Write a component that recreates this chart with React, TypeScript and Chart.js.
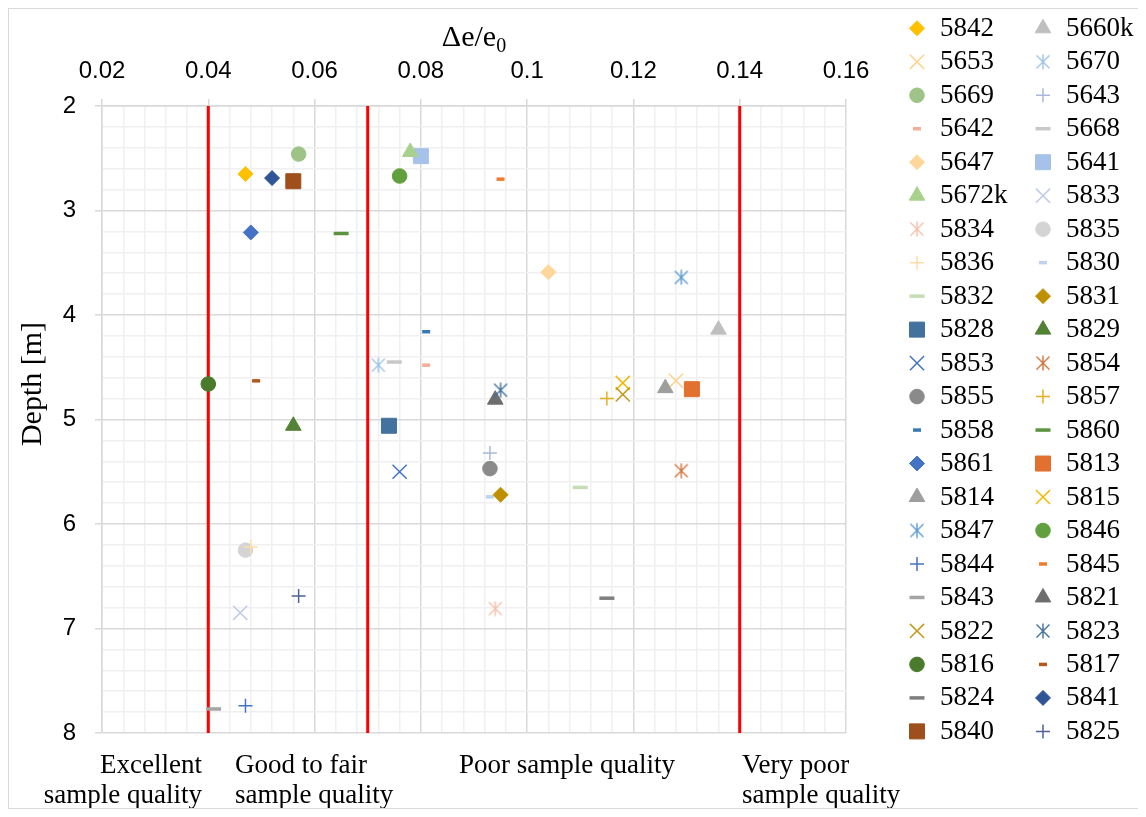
import React, { useEffect, useRef } from 'react';
import { Chart, registerables } from 'chart.js';
import { drawPoint } from 'chart.js/helpers';

Chart.register(...registerables);

// ---- data (Excel series order, legend read row by row) ----
const sampleIds = [
  '5842', '5660k', '5653', '5670', '5669', '5643', '5642', '5668', '5647', '5641',
  '5672k', '5833', '5834', '5835', '5836', '5830', '5832', '5831', '5828', '5829',
  '5853', '5854', '5855', '5857', '5858', '5860', '5861', '5813', '5814', '5815',
  '5847', '5846', '5844', '5845', '5843', '5821', '5822', '5823', '5816', '5817',
  '5824', '5841', '5840', '5825',
];
const deltaE = [
  0.047, 0.136, 0.128, 0.072, 0.057, 0.093, 0.081, 0.075, 0.104, 0.080,
  0.078, 0.046, 0.094, 0.047, 0.048, 0.093, 0.110, 0.095, 0.074, 0.056,
  0.076, 0.129, 0.093, 0.115, 0.081, 0.065, 0.048, 0.131, 0.126, 0.118,
  0.129, 0.076, 0.047, 0.095, 0.041, 0.094, 0.118, 0.095, 0.040, 0.049,
  0.115, 0.052, 0.056, 0.057,
];
const depth = [
  2.65, 4.14, 4.63, 4.48, 2.46, 5.32, 4.48, 4.45, 3.59, 2.48,
  2.44, 6.85, 6.81, 6.25, 6.22, 5.74, 5.65, 5.72, 5.06, 5.06,
  5.50, 5.49, 5.47, 4.80, 4.16, 3.22, 3.21, 4.71, 4.70, 4.65,
  3.64, 2.67, 7.74, 2.70, 7.77, 4.81, 4.76, 4.72, 4.66, 4.63,
  6.71, 2.69, 2.72, 6.69,
];
const qualityBounds = [0.04, 0.07, 0.14];
const depthRange = [2, 8];
const xMajorTicks = [0.02, 0.04, 0.06, 0.08, 0.1, 0.12, 0.14, 0.16];
const yMajorTicks = [2, 3, 4, 5, 6, 7, 8];
const xTitle = 'Δe/e';
const xTitleSub = '0';
const yTitle = 'Depth [m]';
const qualityLabels = [
  ['Excellent', 'sample quality'],
  ['Good to fair', 'sample quality'],
  ['Poor sample quality'],
  ['Very poor', 'sample quality'],
];

// ---- styles ----
const markerKinds = [
  'diamond', 'triangle', 'x', 'asterisk', 'circle', 'plus', 'dashS', 'dashL', 'diamond', 'square',
  'triangle', 'x', 'asterisk', 'circle', 'plus', 'dashS', 'dashL', 'diamond', 'square', 'triangle',
  'x', 'asterisk', 'circle', 'plus', 'dashS', 'dashL', 'diamond', 'square', 'triangle', 'x',
  'asterisk', 'circle', 'plus', 'dashS', 'dashL', 'triangle', 'x', 'asterisk', 'circle', 'dashS',
  'dashL', 'diamond', 'square', 'plus',
];
const markerColors = [
  '#FFC000', '#BFBFBF', '#FFD28C', '#9DC3E6', '#9DC486', '#A9B8DC', '#F3AE99', '#C8C8C8', '#FFD699', '#A6C2E8',
  '#A9D18E', '#C0CAEA', '#F6C0AA', '#D4D4D4', '#FFDDAA', '#BDD2EE', '#C5DDB4', '#BF9000', '#44729E', '#548235',
  '#4472C4', '#D0743C', '#8A8A8A', '#E5B01E', '#3A78B5', '#5B9340', '#4472C4', '#E2702E', '#9E9E9E', '#F5B800',
  '#5B9BD5', '#62A03F', '#4472C4', '#ED7D31', '#A5A5A5', '#6E6E6E', '#C49A1C', '#41719C', '#4A7A2C', '#B5581A',
  '#7F7F7F', '#2F5597', '#9E4F1C', '#4F6398',
];

const SERIF = '"Liberation Serif", "Times New Roman", serif';
const SANS = '"Liberation Sans", Arial, sans-serif';

function makeAsterisk(color: string) {
  const c = document.createElement('canvas');
  c.width = 16;
  c.height = 16;
  const g = c.getContext('2d')!;
  g.strokeStyle = color;
  g.lineWidth = 1.4;
  g.beginPath();
  g.moveTo(1.5, 1.5); g.lineTo(14.5, 14.5);
  g.moveTo(14.5, 1.5); g.lineTo(1.5, 14.5);
  g.moveTo(8, 0.5); g.lineTo(8, 15.5);
  g.stroke();
  return c;
}

function markerSpec(kind: string, color: string) {
  switch (kind) {
    case 'diamond': return { style: 'rectRot', radius: 7.5, bw: 1 };
    case 'square': return { style: 'rect', radius: 10.6, bw: 1 };
    case 'triangle': return { style: 'triangle', radius: 9, bw: 1 };
    case 'circle': return { style: 'circle', radius: 7.3, bw: 1 };
    case 'x': return { style: 'crossRot', radius: 10, bw: 1.5 };
    case 'plus': return { style: 'cross', radius: 7, bw: 1.5 };
    case 'dashS': return { style: 'line', radius: 4, bw: 3.5 };
    case 'dashL': return { style: 'line', radius: 7.5, bw: 3.5 };
    case 'asterisk': return { style: makeAsterisk(color) as any, radius: 7, bw: 1 };
    default: return { style: 'circle', radius: 7, bw: 1 };
  }
}

const near = (v: number, list: number[]) => list.some((t) => Math.abs(t - v) < 1e-7);

export default function App() {
  const ref = useRef<HTMLCanvasElement>(null);

  useEffect(() => {
    const canvas = ref.current;
    if (!canvas) return;

    const specs = sampleIds.map((_, i) => markerSpec(markerKinds[i], markerColors[i]));

    const pointSets = sampleIds.map((id, i) => ({
      label: id,
      data: [{ x: deltaE[i], y: depth[i] }],
      pointStyle: specs[i].style,
      pointRadius: specs[i].radius,
      pointHoverRadius: specs[i].radius,
      pointBorderWidth: specs[i].bw,
      backgroundColor: markerColors[i],
      borderColor: markerColors[i],
      showLine: false,
      order: -i,
    }));

    const boundSets = qualityBounds.map((b) => ({
      label: 'bound',
      data: [{ x: b, y: depthRange[0] }, { x: b, y: depthRange[1] }],
      showLine: true,
      borderColor: '#FF0000',
      borderWidth: 3,
      pointRadius: 0,
      order: 1000,
    }));

    const textPlugin = {
      id: 'texts',
      afterDraw(chart: any) {
        const ctx = chart.ctx as CanvasRenderingContext2D;
        const area = chart.chartArea;
        ctx.save();
        ctx.fillStyle = '#000';

        // x title with subscript
        ctx.font = `30px ${SERIF}`;
        const w1 = ctx.measureText(xTitle).width;
        ctx.font = `20px ${SERIF}`;
        const w2 = ctx.measureText(xTitleSub).width;
        const cx = (area.left + area.right) / 2;
        const sx = cx - (w1 + w2) / 2;
        ctx.textBaseline = 'alphabetic';
        ctx.textAlign = 'left';
        ctx.font = `30px ${SERIF}`;
        ctx.fillText(xTitle, sx, 37);
        ctx.font = `20px ${SERIF}`;
        ctx.fillText(xTitleSub, sx + w1, 43);

        // y title
        ctx.save();
        ctx.translate(24.5, 375);
        ctx.rotate(-Math.PI / 2);
        ctx.font = `30px ${SERIF}`;
        ctx.textAlign = 'center';
        ctx.textBaseline = 'middle';
        ctx.fillText(yTitle, 0, 0);
        ctx.restore();

        // quality labels
        ctx.font = `27px ${SERIF}`;
        ctx.textBaseline = 'alphabetic';
        const anchors = [
          { x: 193, align: 'right' },
          { x: 226, align: 'left' },
          { x: 450, align: 'left' },
          { x: 733, align: 'left' },
        ];
        qualityLabels.forEach((lines, k) => {
          ctx.textAlign = anchors[k].align as CanvasTextAlign;
          lines.forEach((ln, j) => ctx.fillText(ln, anchors[k].x, 764 + j * 30));
        });

        // legend
        sampleIds.forEach((id, i) => {
          const col = i % 2;
          const row = Math.floor(i / 2);
          const mx = col === 0 ? 908 : 1034;
          const tx = col === 0 ? 931 : 1057;
          const y = 19.3 + row * 33.48;
          ctx.save();
          ctx.fillStyle = markerColors[i];
          ctx.strokeStyle = markerColors[i];
          ctx.lineWidth = specs[i].bw;
          drawPoint(ctx, { pointStyle: specs[i].style, radius: specs[i].radius, borderWidth: specs[i].bw, rotation: 0 } as any, mx, y);
          ctx.restore();
          ctx.font = `27px ${SERIF}`;
          ctx.textAlign = 'left';
          ctx.textBaseline = 'middle';
          ctx.fillStyle = '#000';
          ctx.fillText(id, tx, y + 0.5);
        });
        ctx.restore();
      },
    };

    const chart = new Chart(canvas, {
      type: 'scatter',
      data: { datasets: [...pointSets, ...boundSets] as any },
      plugins: [textPlugin],
      options: {
        responsive: false,
        animation: false,
        devicePixelRatio: 1,
        layout: { padding: { left: 0, top: 0, right: 295, bottom: 75 } },
        plugins: { legend: { display: false }, tooltip: { enabled: false } },
        events: [],
        scales: {
          x: {
            type: 'linear',
            position: 'top',
            min: xMajorTicks[0],
            max: xMajorTicks[xMajorTicks.length - 1],
            afterFit: (s: any) => { s.height = 97; },
            border: { display: true, color: '#D9D9D9', width: 1.5 },
            grid: {
              color: (c: any) => (c.tick && near(c.tick.value, xMajorTicks) ? '#D9D9D9' : '#F0F0F0'),
              tickColor: (c: any) => (c.tick && near(c.tick.value, xMajorTicks) ? '#D9D9D9' : 'rgba(0,0,0,0)'),
              lineWidth: 1.5,
              tickLength: 7,
              drawTicks: true,
            },
            ticks: {
              stepSize: 0.004,
              autoSkip: false,
              maxRotation: 0,
              padding: 13,
              color: '#000',
              font: { family: SANS, size: 24 },
              callback: (v: any) => (near(Number(v), xMajorTicks) ? String(Number(Number(v).toFixed(2))) : ''),
            },
          },
          y: {
            type: 'linear',
            position: 'left',
            reverse: true,
            min: depthRange[0],
            max: depthRange[1],
            afterFit: (s: any) => { s.width = 93; },
            border: { display: true, color: '#D9D9D9', width: 1.5 },
            grid: {
              color: (c: any) => (c.tick && near(c.tick.value, yMajorTicks) ? '#D9D9D9' : '#F0F0F0'),
              tickColor: (c: any) => (c.tick && near(c.tick.value, yMajorTicks) ? '#D9D9D9' : 'rgba(0,0,0,0)'),
              lineWidth: 1.5,
              tickLength: 7,
              drawTicks: true,
            },
            ticks: {
              stepSize: 0.2,
              autoSkip: false,
              padding: 19,
              color: '#000',
              font: { family: SANS, size: 24 },
              callback: (v: any) => (near(Number(v), yMajorTicks) ? String(Math.round(Number(v))) : ''),
            },
          },
        },
      } as any,
    });

    return () => chart.destroy();
  }, []);

  return (
    <div
      style={{
        width: 1134,
        height: 801,
        border: '1px solid #D9D9D9',
        boxSizing: 'border-box',
        background: '#fff',
      }}
    >
      <canvas ref={ref} width={1132} height={799} style={{ display: 'block', width: 1132, height: 799 }} />
    </div>
  );
}
